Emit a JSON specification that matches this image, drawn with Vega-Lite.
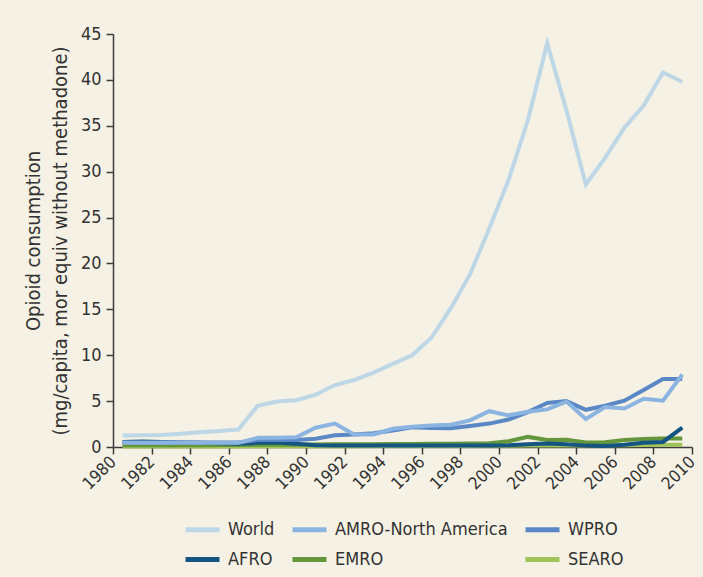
{
  "$schema": "https://vega.github.io/schema/vega-lite/v6.json",
  "width": 579,
  "height": 413,
  "autosize": {"type": "none"},
  "padding": {"left": 113, "top": 34, "right": 11, "bottom": 130},
  "background": "#F5F1E4",
  "config": {
    "view": {"stroke": null},
    "axis": {
      "grid": false,
      "domainColor": "#3c3c3c",
      "domainWidth": 1.5,
      "tickColor": "#3c3c3c",
      "tickWidth": 1.5,
      "tickSize": 7,
      "labelFont": "'Liberation Sans Narrow', 'DejaVu Sans Condensed', 'Arial Narrow', 'Liberation Sans', sans-serif",
      "labelFontSize": 18,
      "labelColor": "#333333",
      "titleFont": "'Liberation Sans Narrow', 'DejaVu Sans Condensed', 'Arial Narrow', 'Liberation Sans', sans-serif",
      "titleFontSize": 20,
      "titleFontWeight": "normal",
      "titleColor": "#333333"
    },
    "legend": {
      "labelFont": "'Liberation Sans Narrow', 'DejaVu Sans Condensed', 'Arial Narrow', 'Liberation Sans', sans-serif",
      "labelFontSize": 18,
      "labelColor": "#333333",
      "labelLimit": 400
    }
  },
  "data": {
    "values": [
      {"region":"SEARO","year":"1980-07-01","value":0.05},{"region":"SEARO","year":"1981-07-01","value":0.05},{"region":"SEARO","year":"1982-07-01","value":0.05},{"region":"SEARO","year":"1983-07-01","value":0.05},{"region":"SEARO","year":"1984-07-01","value":0.05},{"region":"SEARO","year":"1985-07-01","value":0.06},{"region":"SEARO","year":"1986-07-01","value":0.06},{"region":"SEARO","year":"1987-07-01","value":0.07},{"region":"SEARO","year":"1988-07-01","value":0.07},{"region":"SEARO","year":"1989-07-01","value":0.08},{"region":"SEARO","year":"1990-07-01","value":0.08},{"region":"SEARO","year":"1991-07-01","value":0.09},{"region":"SEARO","year":"1992-07-01","value":0.09},{"region":"SEARO","year":"1993-07-01","value":0.1},{"region":"SEARO","year":"1994-07-01","value":0.1},{"region":"SEARO","year":"1995-07-01","value":0.1},{"region":"SEARO","year":"1996-07-01","value":0.11},{"region":"SEARO","year":"1997-07-01","value":0.12},{"region":"SEARO","year":"1998-07-01","value":0.12},{"region":"SEARO","year":"1999-07-01","value":0.13},{"region":"SEARO","year":"2000-07-01","value":0.14},{"region":"SEARO","year":"2001-07-01","value":0.15},{"region":"SEARO","year":"2002-07-01","value":0.16},{"region":"SEARO","year":"2003-07-01","value":0.17},{"region":"SEARO","year":"2004-07-01","value":0.17},{"region":"SEARO","year":"2005-07-01","value":0.18},{"region":"SEARO","year":"2006-07-01","value":0.2},{"region":"SEARO","year":"2007-07-01","value":0.22},{"region":"SEARO","year":"2008-07-01","value":0.24},{"region":"SEARO","year":"2009-07-01","value":0.25},
      {"region":"EMRO","year":"1980-07-01","value":0.2},{"region":"EMRO","year":"1981-07-01","value":0.2},{"region":"EMRO","year":"1982-07-01","value":0.2},{"region":"EMRO","year":"1983-07-01","value":0.2},{"region":"EMRO","year":"1984-07-01","value":0.2},{"region":"EMRO","year":"1985-07-01","value":0.22},{"region":"EMRO","year":"1986-07-01","value":0.22},{"region":"EMRO","year":"1987-07-01","value":0.25},{"region":"EMRO","year":"1988-07-01","value":0.25},{"region":"EMRO","year":"1989-07-01","value":0.25},{"region":"EMRO","year":"1990-07-01","value":0.28},{"region":"EMRO","year":"1991-07-01","value":0.3},{"region":"EMRO","year":"1992-07-01","value":0.3},{"region":"EMRO","year":"1993-07-01","value":0.3},{"region":"EMRO","year":"1994-07-01","value":0.32},{"region":"EMRO","year":"1995-07-01","value":0.33},{"region":"EMRO","year":"1996-07-01","value":0.35},{"region":"EMRO","year":"1997-07-01","value":0.36},{"region":"EMRO","year":"1998-07-01","value":0.38},{"region":"EMRO","year":"1999-07-01","value":0.42},{"region":"EMRO","year":"2000-07-01","value":0.62},{"region":"EMRO","year":"2001-07-01","value":1.1},{"region":"EMRO","year":"2002-07-01","value":0.76},{"region":"EMRO","year":"2003-07-01","value":0.8},{"region":"EMRO","year":"2004-07-01","value":0.5},{"region":"EMRO","year":"2005-07-01","value":0.52},{"region":"EMRO","year":"2006-07-01","value":0.75},{"region":"EMRO","year":"2007-07-01","value":0.86},{"region":"EMRO","year":"2008-07-01","value":0.92},{"region":"EMRO","year":"2009-07-01","value":0.92},
      {"region":"AFRO","year":"1980-07-01","value":0.55},{"region":"AFRO","year":"1981-07-01","value":0.6},{"region":"AFRO","year":"1982-07-01","value":0.55},{"region":"AFRO","year":"1983-07-01","value":0.5},{"region":"AFRO","year":"1984-07-01","value":0.45},{"region":"AFRO","year":"1985-07-01","value":0.4},{"region":"AFRO","year":"1986-07-01","value":0.35},{"region":"AFRO","year":"1987-07-01","value":0.45},{"region":"AFRO","year":"1988-07-01","value":0.5},{"region":"AFRO","year":"1989-07-01","value":0.35},{"region":"AFRO","year":"1990-07-01","value":0.2},{"region":"AFRO","year":"1991-07-01","value":0.15},{"region":"AFRO","year":"1992-07-01","value":0.15},{"region":"AFRO","year":"1993-07-01","value":0.15},{"region":"AFRO","year":"1994-07-01","value":0.15},{"region":"AFRO","year":"1995-07-01","value":0.15},{"region":"AFRO","year":"1996-07-01","value":0.15},{"region":"AFRO","year":"1997-07-01","value":0.15},{"region":"AFRO","year":"1998-07-01","value":0.15},{"region":"AFRO","year":"1999-07-01","value":0.15},{"region":"AFRO","year":"2000-07-01","value":0.2},{"region":"AFRO","year":"2001-07-01","value":0.3},{"region":"AFRO","year":"2002-07-01","value":0.38},{"region":"AFRO","year":"2003-07-01","value":0.3},{"region":"AFRO","year":"2004-07-01","value":0.15},{"region":"AFRO","year":"2005-07-01","value":0.1},{"region":"AFRO","year":"2006-07-01","value":0.25},{"region":"AFRO","year":"2007-07-01","value":0.45},{"region":"AFRO","year":"2008-07-01","value":0.55},{"region":"AFRO","year":"2009-07-01","value":2.1},
      {"region":"WPRO","year":"1980-07-01","value":0.5},{"region":"WPRO","year":"1981-07-01","value":0.5},{"region":"WPRO","year":"1982-07-01","value":0.5},{"region":"WPRO","year":"1983-07-01","value":0.5},{"region":"WPRO","year":"1984-07-01","value":0.5},{"region":"WPRO","year":"1985-07-01","value":0.5},{"region":"WPRO","year":"1986-07-01","value":0.5},{"region":"WPRO","year":"1987-07-01","value":0.75},{"region":"WPRO","year":"1988-07-01","value":0.8},{"region":"WPRO","year":"1989-07-01","value":0.75},{"region":"WPRO","year":"1990-07-01","value":0.9},{"region":"WPRO","year":"1991-07-01","value":1.28},{"region":"WPRO","year":"1992-07-01","value":1.37},{"region":"WPRO","year":"1993-07-01","value":1.5},{"region":"WPRO","year":"1994-07-01","value":1.8},{"region":"WPRO","year":"1995-07-01","value":2.15},{"region":"WPRO","year":"1996-07-01","value":2.07},{"region":"WPRO","year":"1997-07-01","value":2.05},{"region":"WPRO","year":"1998-07-01","value":2.3},{"region":"WPRO","year":"1999-07-01","value":2.55},{"region":"WPRO","year":"2000-07-01","value":3.0},{"region":"WPRO","year":"2001-07-01","value":3.8},{"region":"WPRO","year":"2002-07-01","value":4.8},{"region":"WPRO","year":"2003-07-01","value":5.0},{"region":"WPRO","year":"2004-07-01","value":4.05},{"region":"WPRO","year":"2005-07-01","value":4.5},{"region":"WPRO","year":"2006-07-01","value":5.05},{"region":"WPRO","year":"2007-07-01","value":6.2},{"region":"WPRO","year":"2008-07-01","value":7.42},{"region":"WPRO","year":"2009-07-01","value":7.42},
      {"region":"AMRO-North America","year":"1980-07-01","value":0.45},{"region":"AMRO-North America","year":"1981-07-01","value":0.45},{"region":"AMRO-North America","year":"1982-07-01","value":0.45},{"region":"AMRO-North America","year":"1983-07-01","value":0.45},{"region":"AMRO-North America","year":"1984-07-01","value":0.45},{"region":"AMRO-North America","year":"1985-07-01","value":0.45},{"region":"AMRO-North America","year":"1986-07-01","value":0.45},{"region":"AMRO-North America","year":"1987-07-01","value":1.0},{"region":"AMRO-North America","year":"1988-07-01","value":1.0},{"region":"AMRO-North America","year":"1989-07-01","value":1.05},{"region":"AMRO-North America","year":"1990-07-01","value":2.1},{"region":"AMRO-North America","year":"1991-07-01","value":2.56},{"region":"AMRO-North America","year":"1992-07-01","value":1.36},{"region":"AMRO-North America","year":"1993-07-01","value":1.36},{"region":"AMRO-North America","year":"1994-07-01","value":1.98},{"region":"AMRO-North America","year":"1995-07-01","value":2.2},{"region":"AMRO-North America","year":"1996-07-01","value":2.35},{"region":"AMRO-North America","year":"1997-07-01","value":2.42},{"region":"AMRO-North America","year":"1998-07-01","value":2.9},{"region":"AMRO-North America","year":"1999-07-01","value":3.9},{"region":"AMRO-North America","year":"2000-07-01","value":3.45},{"region":"AMRO-North America","year":"2001-07-01","value":3.85},{"region":"AMRO-North America","year":"2002-07-01","value":4.1},{"region":"AMRO-North America","year":"2003-07-01","value":4.95},{"region":"AMRO-North America","year":"2004-07-01","value":3.05},{"region":"AMRO-North America","year":"2005-07-01","value":4.35},{"region":"AMRO-North America","year":"2006-07-01","value":4.2},{"region":"AMRO-North America","year":"2007-07-01","value":5.25},{"region":"AMRO-North America","year":"2008-07-01","value":5.05},{"region":"AMRO-North America","year":"2009-07-01","value":7.9},
      {"region":"World","year":"1980-07-01","value":1.25},{"region":"World","year":"1981-07-01","value":1.28},{"region":"World","year":"1982-07-01","value":1.32},{"region":"World","year":"1983-07-01","value":1.45},{"region":"World","year":"1984-07-01","value":1.6},{"region":"World","year":"1985-07-01","value":1.75},{"region":"World","year":"1986-07-01","value":1.9},{"region":"World","year":"1987-07-01","value":4.5},{"region":"World","year":"1988-07-01","value":4.95},{"region":"World","year":"1989-07-01","value":5.1},{"region":"World","year":"1990-07-01","value":5.7},{"region":"World","year":"1991-07-01","value":6.75},{"region":"World","year":"1992-07-01","value":7.3},{"region":"World","year":"1993-07-01","value":8.1},{"region":"World","year":"1994-07-01","value":9.05},{"region":"World","year":"1995-07-01","value":10.0},{"region":"World","year":"1996-07-01","value":11.9},{"region":"World","year":"1997-07-01","value":15.1},{"region":"World","year":"1998-07-01","value":18.8},{"region":"World","year":"1999-07-01","value":23.8},{"region":"World","year":"2000-07-01","value":29.1},{"region":"World","year":"2001-07-01","value":35.6},{"region":"World","year":"2002-07-01","value":44.0},{"region":"World","year":"2003-07-01","value":36.7},{"region":"World","year":"2004-07-01","value":28.6},{"region":"World","year":"2005-07-01","value":31.5},{"region":"World","year":"2006-07-01","value":34.8},{"region":"World","year":"2007-07-01","value":37.2},{"region":"World","year":"2008-07-01","value":40.8},{"region":"World","year":"2009-07-01","value":39.8}
    ]
  },
  "mark": {"type": "line", "strokeWidth": 4, "strokeJoin": "miter", "strokeCap": "butt"},
  "encoding": {
    "x": {
      "field": "year",
      "type": "temporal",
      "scale": {"type": "utc", "domain": [{"year": 1980, "utc": true}, {"year": 2010, "utc": true}]},
      "axis": {
        "title": null,
        "format": "%Y",
        "labelAngle": -45,
        "labelAlign": "right",
        "labelBaseline": "middle",
        "labelFontSize": 17,
        "labelPadding": 5,
        "labelOverlap": false,
        "labelBound": false,
        "labelFlush": false,
        "values": [
          {"year": 1980, "utc": true}, {"year": 1982, "utc": true}, {"year": 1984, "utc": true}, {"year": 1986, "utc": true},
          {"year": 1988, "utc": true}, {"year": 1990, "utc": true}, {"year": 1992, "utc": true}, {"year": 1994, "utc": true},
          {"year": 1996, "utc": true}, {"year": 1998, "utc": true}, {"year": 2000, "utc": true}, {"year": 2002, "utc": true},
          {"year": 2004, "utc": true}, {"year": 2006, "utc": true}, {"year": 2008, "utc": true}, {"year": 2010, "utc": true}
        ]
      }
    },
    "y": {
      "field": "value",
      "type": "quantitative",
      "scale": {"domain": [0, 45], "nice": false},
      "axis": {
        "title": ["Opioid consumption", "(mg/capita, mor equiv without methadone)"],
        "values": [0, 5, 10, 15, 20, 25, 30, 35, 40, 45],
        "labelPadding": 5,
        "labelOverlap": false,
        "titlePadding": 10,
        "titleLineHeight": 27
      }
    },
    "color": {
      "field": "region",
      "type": "nominal",
      "scale": {
        "domain": ["World", "AMRO-North America", "WPRO", "AFRO", "EMRO", "SEARO"],
        "range": ["#BDD7E7", "#8CB4E1", "#5A88C6", "#155582", "#64963C", "#A0C35A"]
      },
      "legend": {
        "title": null,
        "orient": "none",
        "legendX": 70,
        "legendY": 476,
        "columns": 3,
        "direction": "horizontal",
        "symbolType": "stroke",
        "symbolSize": 1156,
        "symbolStrokeWidth": 5,
        "columnPadding": 7,
        "rowPadding": 0,
        "labelOffset": 6,
        "padding": 0
      }
    }
  }
}
